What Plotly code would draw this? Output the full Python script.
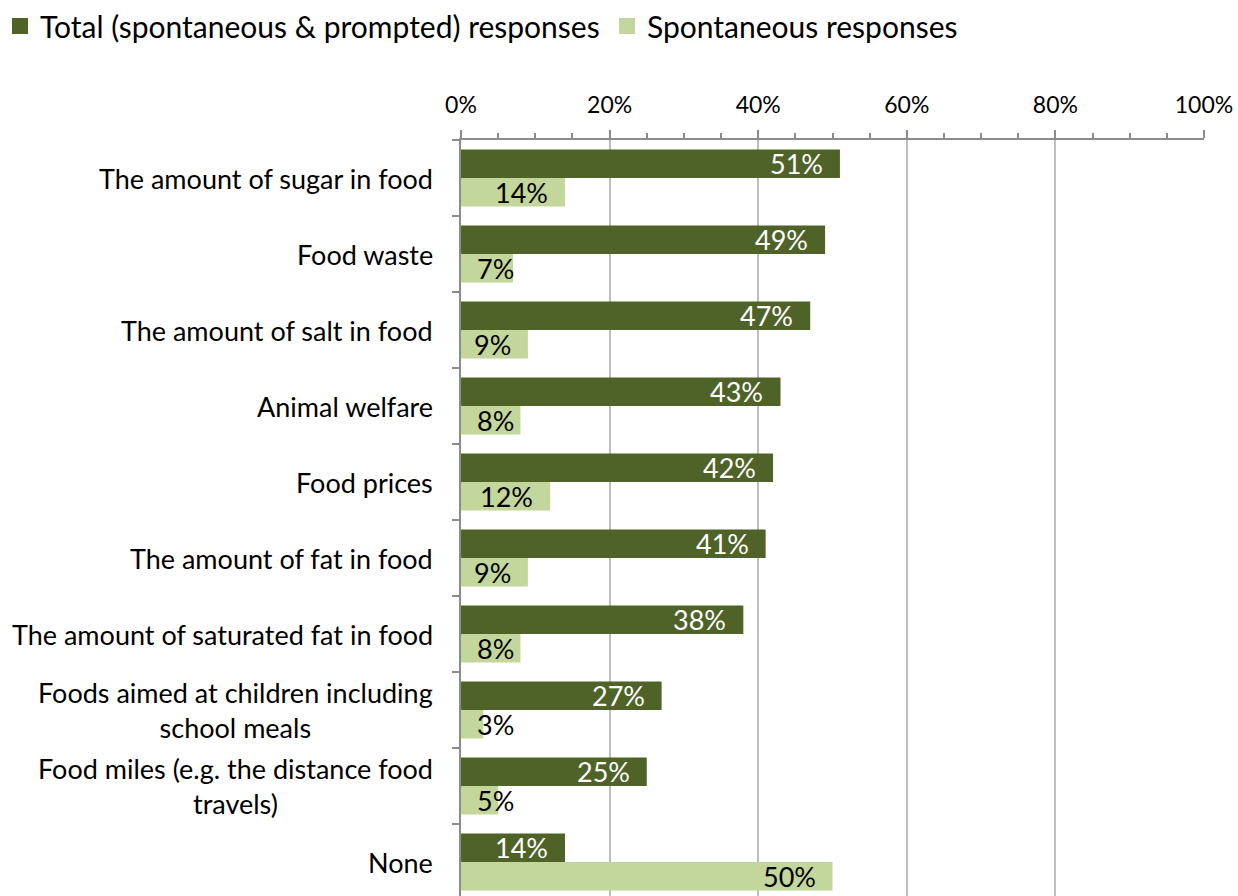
import plotly.graph_objects as go

categories = [
    "The amount of sugar in food",
    "Food waste",
    "The amount of salt in food",
    "Animal welfare",
    "Food prices",
    "The amount of fat in food",
    "The amount of saturated fat in food",
    "Foods aimed at children including<br>school meals",
    "Food miles (e.g. the distance food<br>travels)",
    "None",
]
total_pct = [51, 49, 47, 43, 42, 41, 38, 27, 25, 14]
spont_pct = [14, 7, 9, 8, 12, 9, 8, 3, 5, 50]
series_names = ["Total (spontaneous & prompted) responses", "Spontaneous responses"]

DARK = "#4F6228"
LIGHT = "#C3D69B"
FONT = "Lato"

n = len(categories)
ypos = list(range(n))
bargap = 0.25
half = (1 - bargap) / 4  # centre offset of each bar within a group

fig = go.Figure()
fig.add_bar(
    y=ypos, x=[v / 100 for v in total_pct], orientation="h",
    name=series_names[0], showlegend=False,
    marker=dict(color=DARK, line=dict(width=0)),
)
fig.add_bar(
    y=ypos, x=[v / 100 for v in spont_pct], orientation="h",
    name=series_names[1], showlegend=False,
    marker=dict(color=LIGHT, line=dict(width=0)),
)

# legend keys: large square swatches, one legend box per series
for name, colour, leg in ((series_names[0], DARK, "legend"), (series_names[1], LIGHT, "legend2")):
    fig.add_scatter(
        x=[None], y=[None], mode="markers", name=name, legend=leg,
        marker=dict(symbol="square", size=16, color=colour, line=dict(width=0)),
    )

annotations = []
# value labels placed at the inside end of each bar
PX_PER_UNIT = 743  # plot width in px for 0..100%
for series, offset, colour in ((total_pct, -half, "white"), (spont_pct, half, "black")):
    for i, v in enumerate(series):
        label = f"{v}%"
        est_w = 15 * len(label)
        bar_px = v / 100 * PX_PER_UNIT
        if bar_px - 15 - est_w >= 15:
            x, xanchor, xshift = v / 100, "right", -15
        else:
            x, xanchor, xshift = 0, "left", 14
        annotations.append(dict(
            x=x, y=i + offset, xref="x", yref="y", text=label, showarrow=False,
            xanchor=xanchor, xshift=xshift, yanchor="middle",
            font=dict(family=FONT, size=27, color=colour),
        ))

# category labels, centred per line, to the left of the axis
for i, c in enumerate(categories):
    annotations.append(dict(
        x=0, y=i, xref="paper", yref="y", text=c, showarrow=False,
        xanchor="right", xshift=-26, yanchor="middle", align="center",
        font=dict(family=FONT, size=27, color="black"),
    ))

legend_common = dict(
    orientation="h", xref="container", yref="container",
    xanchor="left", yanchor="middle",
    font=dict(family=FONT, size=30, color="black"),
    itemsizing="trace", itemwidth=30, bgcolor="rgba(0,0,0,0)",
)

fig.update_layout(
    width=1238, height=896,
    margin=dict(l=461, r=34, t=140, b=0),
    paper_bgcolor="white", plot_bgcolor="white",
    barmode="group", bargap=bargap, bargroupgap=0,
    font=dict(family=FONT, color="black"),
    showlegend=True,
    legend=dict(x=0.0, y=1 - 26 / 896, **legend_common),
    legend2=dict(x=607 / 1238, y=1 - 26 / 896, **legend_common),
    annotations=annotations,
)

fig.update_xaxes(
    side="top", range=[0, 1], tickformat=".0%", dtick=0.2, tick0=0,
    showgrid=True, gridcolor="#BFBFBF", gridwidth=1.5,
    showline=True, linecolor="#8C8C8C", linewidth=1.5,
    ticks="outside", ticklen=8, tickcolor="#8C8C8C", tickwidth=1.5,
    tickfont=dict(family=FONT, size=23, color="black"),
    ticklabelstandoff=8,
    minor=dict(dtick=0.05, ticks="outside", ticklen=5, tickcolor="#8C8C8C",
               tickwidth=1.5, showgrid=False),
    zeroline=False, fixedrange=True,
)

fig.update_yaxes(
    range=[n - 0.5 - 4 / 76, -0.5],
    tickvals=ypos, showticklabels=False, ticks="",
    showgrid=False, zeroline=False,
    showline=True, linecolor="#8C8C8C", linewidth=1.5,
    minor=dict(tickvals=[i - 0.5 for i in range(n + 1)], ticks="outside",
               ticklen=7, tickcolor="#8C8C8C", tickwidth=1.5, showgrid=False),
    fixedrange=True,
)

fig.write_html("out.html")
